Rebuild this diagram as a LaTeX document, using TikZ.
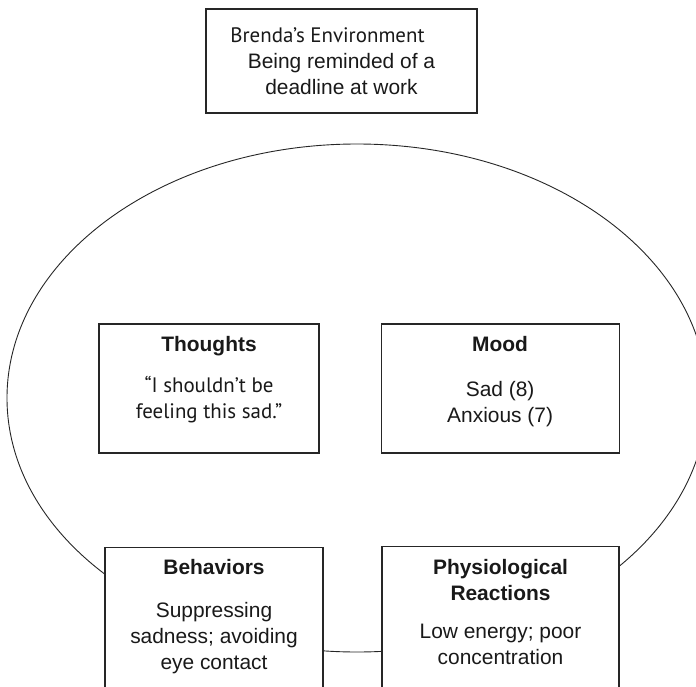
\documentclass[tikz,border=0pt]{standalone}
\usepackage{fontspec}
\setmainfont{Liberation Sans}
\newfontfamily\myriad{PT Sans}
\usetikzlibrary{positioning}

\begin{document}
\begin{tikzpicture}[
    x=1bp, y=-1bp,
    node distance=61bp,
    box/.style={rectangle, draw=black!85, line width=1.1bp, fill=white, inner sep=0pt},
    txt/.style={align=center, inner sep=0pt, font=\fontsize{21}{26}\selectfont, text=black!90}
]
    \clip (0,0) rectangle (696,687);
    % the person's circle
    \draw[line width=0.9bp, black!85] (357,398) ellipse [x radius=350, y radius=254];

    \node[box, txt, minimum width=271bp, minimum height=104bp] (env) at (341.5,61)
        {{\myriad Brenda’s Environment}\hspace*{28bp}\\Being reminded of a\\deadline at work};

    \node[box, minimum width=220bp, minimum height=129bp] (thoughts) at (209,388.5) {};
    \node[box, minimum width=238bp, minimum height=129bp, right=61bp of thoughts] (mood) {};
    \node[box, minimum width=218bp, minimum height=180bp, anchor=north] (behaviors) at (214,547) {};
    \node[box, minimum width=237bp, minimum height=180bp, anchor=north] (physio) at (500.5,546) {};

    \node[txt, below=12.5bp of thoughts.north] (thoughtstext)
        {\textbf{Thoughts}\\[15bp]\myriad “I shouldn’t be\\\myriad feeling this sad.”};
    \node[txt, below=12.5bp of mood.north] (moodtext)
        {\textbf{Mood}\\[19bp]Sad (8)\\Anxious (7)};
    \node[txt, below=12.5bp of behaviors.north] (behaviorstext)
        {\textbf{Behaviors}\\[17bp]Suppressing\\sadness; avoiding\\eye contact};
    \node[txt, below=13bp of physio.north] (physiotext)
        {\textbf{Physiological}\\\textbf{Reactions}\\[12bp]Low energy; poor\\concentration};
\end{tikzpicture}
\end{document}
